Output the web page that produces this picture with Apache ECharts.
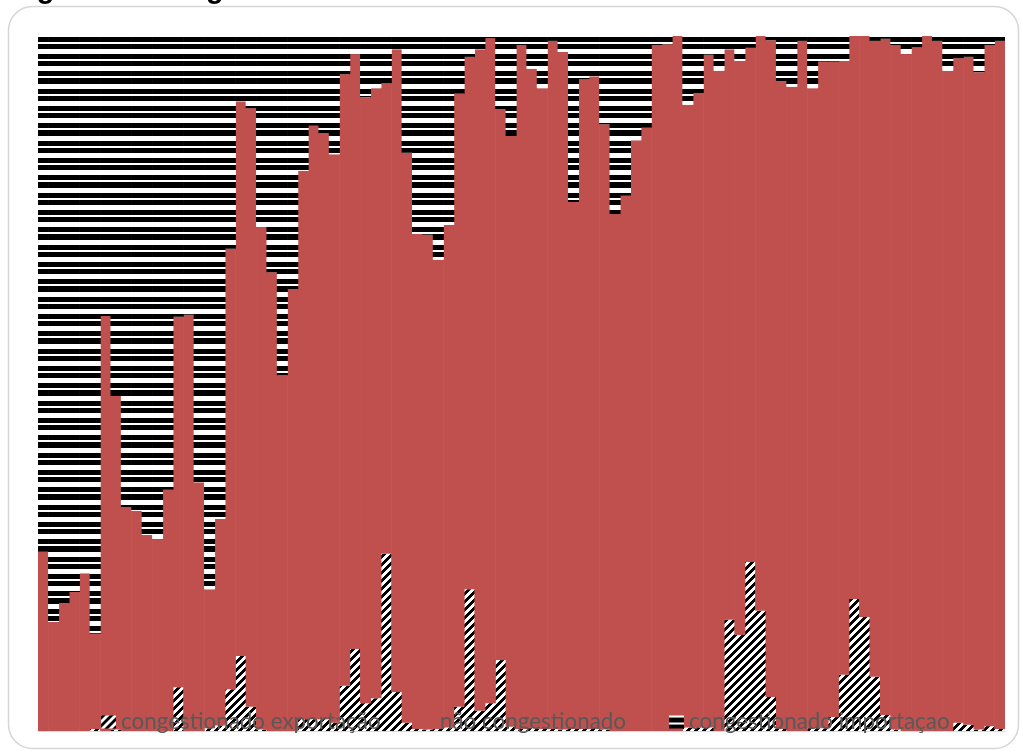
<!DOCTYPE html>
<html>
<head>
<meta charset="utf-8">
<script src="https://cdn.jsdelivr.net/npm/echarts@6/dist/echarts.min.js"></script>
<style>
  html, body { margin: 0; padding: 0; background: #fff; }
  #chart { width: 1023px; height: 756px; }
</style>
</head>
<body>
<div id="chart"></div>
<script>
// Share of each period by congestion state (%), one value per bar.
const exportPct = [
  0, 0, 0, 0, 0, 0.3, 0, 0.2, 0, 0, 0, 0, 0, 6.3, 0, 0, 0.4, 0.8, 6.0, 10.8,
  3.5, 0.2, 0, 0, 0, 1.7, 1.7, 1.7, 1.2, 6.5, 11.8, 4.0, 4.7, 25.5, 5.6, 1.2, 0.3, 0.2, 0.3, 0.5,
  3.5, 20.4, 2.9, 4.0, 10.2, 0.6, 0.3, 0.4, 0.3, 0.3, 0.2, 0.3, 0.3, 0.3, 0.2, 0, 0, 0, 0, 0,
  0, 0, 0.5, 0.5, 0.5, 0, 16.0, 13.8, 24.3, 17.3, 4.9, 0.3, 0, 0, 0.4, 0.4, 2.0, 8.1, 19.0, 16.4,
  7.8, 2.3, 0.2, 0, 0, 0, 0, 0, 1.2, 0.9, 0.2, 0.7, 0.3
];
const naoCongPct = [
  25.8, 15.7, 18.4, 20.0, 22.7, 13.7, 59.7, 48.0, 32.2, 31.7, 28.2, 27.6, 34.7, 53.3, 59.9, 35.8, 20.0, 29.7, 63.4, 79.8,
  86.1, 72.3, 66.0, 51.2, 63.6, 78.9, 85.4, 84.3, 81.8, 88.0, 85.6, 87.2, 87.8, 67.7, 92.5, 82.0, 71.2, 71.2, 67.5, 72.3,
  88.2, 76.6, 95.2, 95.7, 79.3, 85.0, 98.4, 94.9, 92.2, 99.0, 97.5, 75.8, 93.5, 93.9, 87.1, 74.4, 77.0, 85.0, 86.8, 98.7,
  98.8, 100, 89.6, 91.3, 96.8, 95.0, 82.1, 82.6, 74.0, 82.7, 94.5, 93.2, 92.7, 99.3, 92.1, 95.9, 94.3, 88.3, 81.0, 83.6,
  91.5, 97.3, 98.5, 97.4, 98.4, 100, 99.3, 95.0, 95.6, 96.1, 94.6, 98.0, 99.0
];
const importPct = [
  74.2, 84.3, 81.6, 80.0, 77.3, 86.0, 40.3, 51.8, 67.8, 68.3, 71.8, 72.4, 65.3, 40.4, 40.1, 64.2, 79.6, 69.5, 30.6, 9.4,
  10.4, 27.5, 34.0, 48.8, 36.4, 19.4, 12.9, 14.0, 17.0, 5.5, 2.6, 8.8, 7.5, 6.8, 1.9, 16.8, 28.5, 28.6, 32.2, 27.2,
  8.3, 3.0, 1.9, 0.3, 10.5, 14.4, 1.3, 4.7, 7.5, 0.7, 2.3, 23.9, 6.2, 5.8, 12.7, 25.6, 23.0, 15.0, 13.2, 1.3,
  1.2, 0, 9.9, 8.2, 2.7, 5.0, 1.9, 3.6, 1.7, 0, 0.6, 6.5, 7.3, 0.7, 7.5, 3.7, 3.7, 3.6, 0, 0,
  0.7, 0.4, 1.3, 2.6, 1.6, 0, 0.7, 5.0, 3.2, 3.0, 5.2, 1.3, 0.7
];
const categories = importPct.map((_, i) => String(i + 1));
const seriesNames = ['congestionado exportação', 'não congestionado', 'congestionado importaçao'];

// Horizontal black/white stripes (three repeats of a 17.3px cycle).
function stripePattern() {
  const bands = [5, 2, 5, 5, 5, 2, 5, 5, 5, 2, 6, 5];
  const rows = [];
  bands.forEach((h, k) => { for (let j = 0; j < h; j++) rows.push(k % 2 === 0); });
  const c = document.createElement('canvas');
  c.width = 4; c.height = rows.length;
  const ctx = c.getContext('2d');
  ctx.fillStyle = '#fff'; ctx.fillRect(0, 0, c.width, c.height);
  ctx.fillStyle = '#000';
  const n = rows.length, start = 37;
  for (let r = 0; r < n; r++) {
    const t = ((r - start) % n + n) % n;
    if (rows[t]) ctx.fillRect(0, r, c.width, 1);
  }
  return { image: c, repeat: 'repeat' };
}

// Upward diagonal hatch.
function hatchPattern() {
  const p = 8;
  const c = document.createElement('canvas');
  c.width = p; c.height = p;
  const ctx = c.getContext('2d');
  ctx.fillStyle = '#fff'; ctx.fillRect(0, 0, p, p);
  ctx.fillStyle = '#000';
  for (let y = 0; y < p; y++) for (let x = 0; x < p; x++) {
    if ((x + y) % p < 4) ctx.fillRect(x, y, 1, 1);
  }
  return { image: c, repeat: 'repeat' };
}

const legendText = { color: '#595959', fontSize: 22.4, fontFamily: 'Lato' };
function legendAt(name, left) {
  return {
    data: [name], left: left, top: 711, orient: 'horizontal',
    icon: 'rect', itemWidth: 15, itemHeight: 13, itemGap: 0,
    selectedMode: false, textStyle: legendText, padding: 0
  };
}

// Bars are drawn a hair wider than their band so neighbours meet without seams.
const BAR_W = 11;

const chart = echarts.init(document.getElementById('chart'), null, { renderer: 'canvas' });
chart.setOption({
  animation: false,
  backgroundColor: '#fff',
  grid: { left: 38, right: 18, top: 36, bottom: 25, containLabel: false },
  xAxis: {
    type: 'category', data: categories,
    axisLine: { show: true, lineStyle: { color: '#d9d9d9', width: 1 } },
    axisTick: { show: false }, axisLabel: { show: false }
  },
  yAxis: {
    type: 'value', min: 0, max: 100, interval: 100,
    axisLine: { show: false }, axisTick: { show: false }, axisLabel: { show: false },
    splitLine: { show: true, lineStyle: { color: '#d9d9d9', width: 1 } }
  },
  legend: [
    legendAt(seriesNames[0], 101),
    legendAt(seriesNames[1], 420),
    legendAt(seriesNames[2], 669)
  ],
  series: [
    { name: seriesNames[0], type: 'bar', stack: 'total', data: exportPct,
      barWidth: BAR_W, itemStyle: { color: hatchPattern() } },
    { name: seriesNames[1], type: 'bar', stack: 'total', data: naoCongPct,
      barWidth: BAR_W, itemStyle: { color: '#C0504D' } },
    { name: seriesNames[2], type: 'bar', stack: 'total', data: importPct,
      barWidth: BAR_W, itemStyle: { color: stripePattern() } }
  ],
  graphic: [
    { type: 'rect', z: -10, silent: true,
      shape: { x: 8.5, y: 6.5, width: 1010, height: 742, r: 24 },
      style: { fill: 'none', stroke: '#d6d6d6', lineWidth: 1.5 } },
    { type: 'text', x: 11, y: -10, silent: true,
      style: { text: 'Figura 5 - Congestionamento', fill: '#000',
               font: 'bold 29px "Liberation Sans"', verticalAlign: 'middle' } }
  ]
});
</script>
</body>
</html>
